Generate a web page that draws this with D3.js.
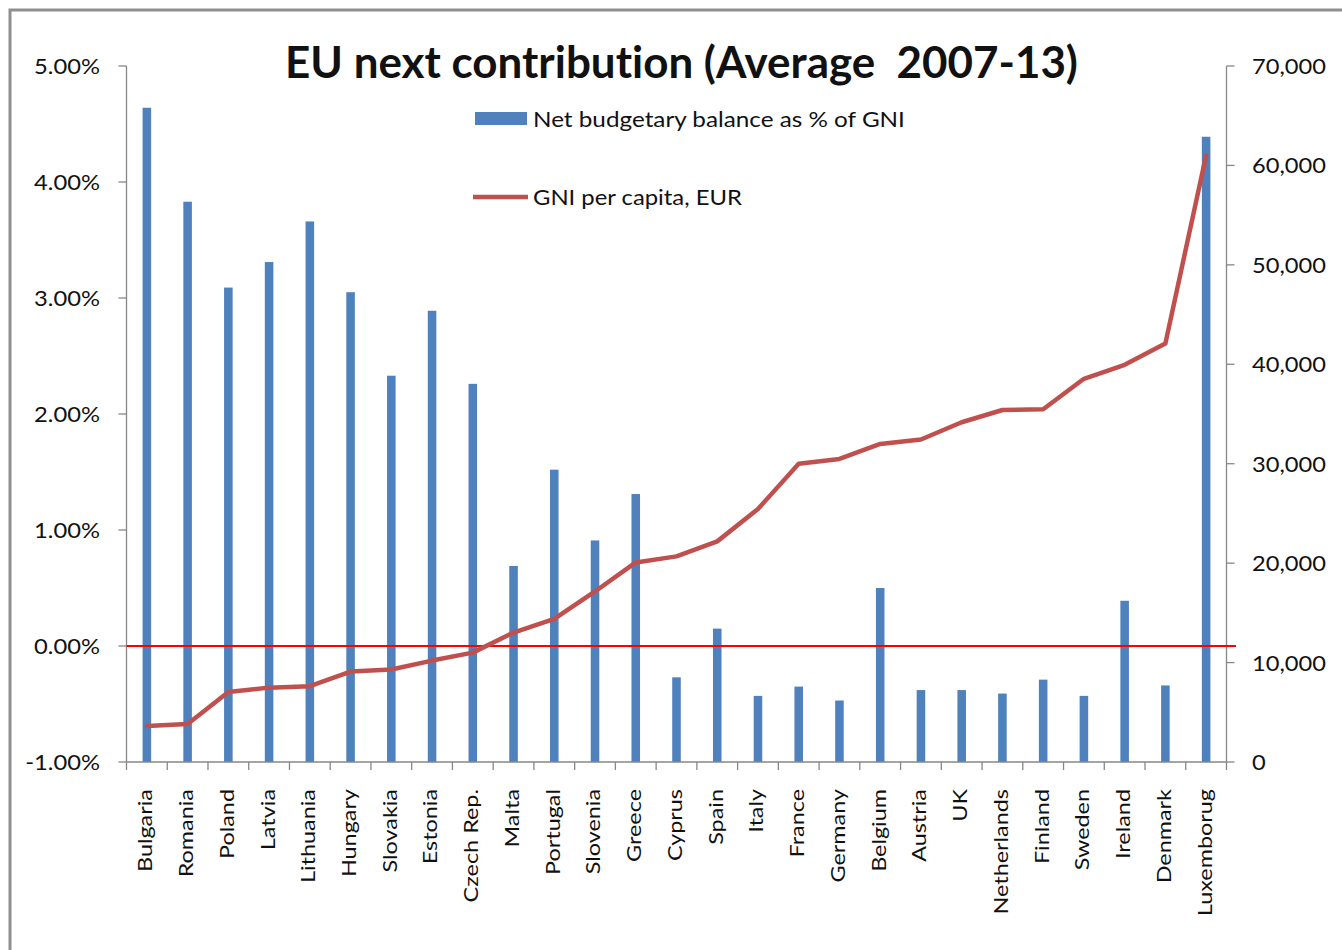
<!DOCTYPE html>
<html>
<head>
<meta charset="utf-8">
<script src="https://cdn.jsdelivr.net/npm/d3@7"></script>
<style>
  html, body { margin: 0; padding: 0; background: #ffffff; }
  svg { display: block; }
  text { font-family: Lato, "Open Sans", sans-serif; fill: #111; font-variant-ligatures: none; white-space: pre; }
</style>
</head>
<body>
<svg id="chart" width="1342" height="950"></svg>
<script>
// ---- data ----
const countries = ["Bulgaria","Romania","Poland","Latvia","Lithuania","Hungary","Slovakia","Estonia","Czech Rep.","Malta","Portugal","Slovenia","Greece","Cyprus","Spain","Italy","France","Germany","Belgium","Austria","UK","Netherlands","Finland","Sweden","Ireland","Denmark","Luxemborug"];
const netBalance = [4.64,3.83,3.09,3.31,3.66,3.05,2.33,2.89,2.26,0.69,1.52,0.91,1.31,-0.27,0.15,-0.43,-0.35,-0.47,0.50,-0.38,-0.38,-0.41,-0.29,-0.43,0.39,-0.34,4.39];
const gniPerCapita = [3620,3830,7050,7480,7620,9090,9300,10200,11000,13020,14400,17150,20070,20680,22190,25450,30000,30480,31990,32430,34170,35400,35480,38540,39950,42100,61030];
const leftTicks = [-1,0,1,2,3,4,5];
const rightTicks = [0,10000,20000,30000,40000,50000,60000,70000];
const titleText = "EU next contribution (Average  2007-13)";
const legendBar = "Net budgetary balance as % of GNI";
const legendLine = "GNI per capita, EUR";

// ---- layout ----
const L = 126.5, R = 1226.5, T = 66, B = 762;
const svg = d3.select("#chart");

svg.append("rect").attr("x",0).attr("y",0).attr("width",1342).attr("height",950).attr("fill","#fff");
svg.append("rect").attr("x",10).attr("y",10).attr("width",1400).attr("height",1000)
  .attr("fill","none").attr("stroke","#8f8f8f").attr("stroke-width",3);

const x = d3.scaleBand().domain(countries).range([L, R]).padding(0);
const yL = d3.scaleLinear().domain([-1,5]).range([B, T]);
const yR = d3.scaleLinear().domain([0,70000]).range([B, T]);

const loc = d3.formatLocale({decimal: ".", thousands: ",", grouping: [3], currency: ["", ""], minus: "-"});
const fmtPct = loc.format(".2f");
const fmtNum = loc.format(",");

function measure(str, size, weight) {
  const t = svg.append("text").text(str).attr("font-size", size).attr("font-weight", weight);
  const w = t.node().getComputedTextLength();
  t.remove();
  return w;
}

// bars
const bw = x.step() * 0.21;
svg.append("g").selectAll("rect").data(countries).join("rect")
  .attr("x", d => x(d) + x.bandwidth()/2 - bw/2)
  .attr("width", bw)
  .attr("y", (d,i) => yL(netBalance[i]))
  .attr("height", (d,i) => yL(-1) - yL(netBalance[i]))
  .attr("fill", "#4F81BD");

// axes lines
const axisColor = "#878787";
svg.append("line").attr("x1",L).attr("x2",L).attr("y1",T).attr("y2",B).attr("stroke",axisColor).attr("stroke-width",1.3);
svg.append("line").attr("x1",R).attr("x2",R).attr("y1",T).attr("y2",B).attr("stroke",axisColor).attr("stroke-width",1.3);
svg.append("line").attr("x1",L).attr("x2",R).attr("y1",B).attr("y2",B).attr("stroke",axisColor).attr("stroke-width",1.3);

// left ticks
const kLeft = 66 / measure("5.00%", 22, 400);
const gl = svg.append("g");
leftTicks.forEach(v => {
  gl.append("line").attr("x1",L-8).attr("x2",L).attr("y1",yL(v)).attr("y2",yL(v)).attr("stroke",axisColor).attr("stroke-width",1.3);
  gl.append("text").text(fmtPct(v) + "%")
    .attr("font-size",22).attr("text-anchor","end")
    .attr("transform",`translate(100,${yL(v)+8}) scale(${kLeft},1)`);
});

// right ticks
const kRight = 74 / measure("70,000", 22, 400);
const gr = svg.append("g");
rightTicks.forEach(v => {
  gr.append("line").attr("x1",R).attr("x2",R+8).attr("y1",yR(v)).attr("y2",yR(v)).attr("stroke",axisColor).attr("stroke-width",1.3);
  gr.append("text").text(fmtNum(v))
    .attr("font-size",22).attr("text-anchor","start")
    .attr("transform",`translate(1252,${yR(v)+8}) scale(${kRight},1)`);
});

// category ticks
const bounds = countries.map(d => x(d)).concat([R]);
svg.append("g").selectAll("line").data(bounds).join("line")
  .attr("x1", d => d).attr("x2", d => d).attr("y1", B).attr("y2", B+8)
  .attr("stroke", axisColor).attr("stroke-width", 1.3);

// category labels
const kCat = 83 / measure("Bulgaria", 20, 400);
svg.append("g").selectAll("text").data(countries).join("text")
  .text(d => d)
  .attr("font-size", 20).attr("text-anchor","end").attr("dy","0.27em")
  .attr("transform", d => `translate(${x(d) + x.bandwidth()/2},789) scale(1,${kCat}) rotate(-90)`);

// zero line
svg.append("line").attr("x1",L).attr("x2",1236).attr("y1",yL(0)).attr("y2",yL(0))
  .attr("stroke","#FF0000").attr("stroke-width",2);

// GNI line
const line = d3.line().x((d,i) => x(countries[i]) + x.bandwidth()/2).y(d => yR(d));
svg.append("path").datum(gniPerCapita).attr("d", line)
  .attr("fill","none").attr("stroke","#C0504D").attr("stroke-width",4.5)
  .attr("stroke-linejoin","round").attr("stroke-linecap","round");

// title
const kTitle = 793 / measure(titleText, 43, 700);
svg.append("text").text(titleText).attr("font-size",43).attr("font-weight",700)
  .attr("text-anchor","middle").attr("fill","#000").attr("xml:space","preserve")
  .attr("transform",`translate(681.5,78) scale(${kTitle},1)`);

// legend
svg.append("rect").attr("x",475).attr("y",112).attr("width",52).attr("height",13).attr("fill","#4F81BD");
const kLeg1 = 372 / measure(legendBar, 22, 400);
svg.append("text").text(legendBar).attr("font-size",22)
  .attr("transform",`translate(533,127) scale(${kLeg1},1)`);
svg.append("line").attr("x1",473).attr("x2",528).attr("y1",197).attr("y2",197)
  .attr("stroke","#C0504D").attr("stroke-width",4.5);
const kLeg2 = 209 / measure(legendLine, 22, 400);
svg.append("text").text(legendLine).attr("font-size",22)
  .attr("transform",`translate(533,205) scale(${kLeg2},1)`);
</script>
</body>
</html>
